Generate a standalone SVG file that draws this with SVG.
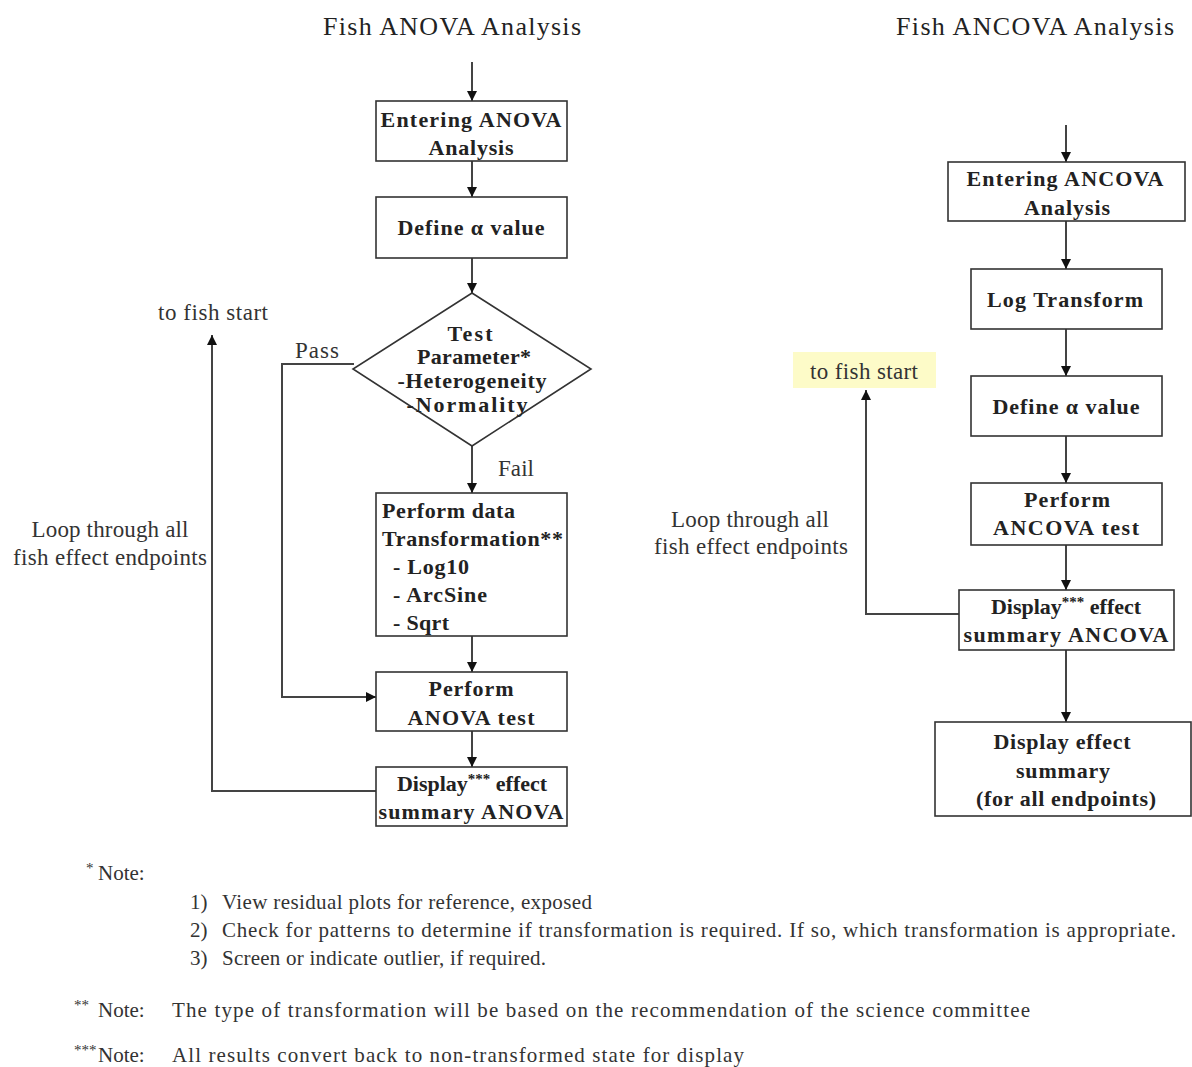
<svg xmlns="http://www.w3.org/2000/svg" width="1192" height="1067" viewBox="0 0 1192 1067">
<defs>
<marker id="ah" markerUnits="userSpaceOnUse" markerWidth="11" markerHeight="11" refX="10" refY="5" orient="auto">
<path d="M0,0 L10,5 L0,10 z" fill="#111"/>
</marker>
<style>
.box{fill:#fff;stroke:#333;stroke-width:1.6}
.nt{font-family:"Liberation Serif","Times New Roman",serif;font-weight:bold;font-size:22px;fill:#222}
.lb{font-family:"Liberation Serif","Times New Roman",serif;font-size:23px;fill:#333}
.tt{font-family:"Liberation Serif","Times New Roman",serif;font-size:26px;fill:#222}
.no{font-family:"Liberation Serif","Times New Roman",serif;font-size:21px;fill:#333}
.cn{fill:none;stroke:#444;stroke-width:2}
.sup{font-size:15px}
</style>
</defs>
<rect width="1192" height="1067" fill="#fff"/>

<text class="tt" x="452" y="35" text-anchor="middle" textLength="258">Fish ANOVA Analysis</text>
<text class="tt" x="1035" y="35" text-anchor="middle" textLength="278">Fish ANCOVA Analysis</text>

<g id="connectors">
<line class="cn" x1="472" y1="62" x2="472" y2="101" marker-end="url(#ah)"/>
<line class="cn" x1="472" y1="161" x2="472" y2="197" marker-end="url(#ah)"/>
<line class="cn" x1="472" y1="258" x2="472" y2="293" marker-end="url(#ah)"/>
<line class="cn" x1="472" y1="446" x2="472" y2="493" marker-end="url(#ah)"/>
<line class="cn" x1="472" y1="636" x2="472" y2="672" marker-end="url(#ah)"/>
<line class="cn" x1="472" y1="731" x2="472" y2="767" marker-end="url(#ah)"/>
<polyline class="cn" points="354,364 282,364 282,697 376,697" marker-end="url(#ah)"/>
<polyline class="cn" points="376,791 212,791 212,335" marker-end="url(#ah)"/>
<line class="cn" x1="1066" y1="125" x2="1066" y2="162" marker-end="url(#ah)"/>
<line class="cn" x1="1066" y1="221" x2="1066" y2="269" marker-end="url(#ah)"/>
<line class="cn" x1="1066" y1="329" x2="1066" y2="376" marker-end="url(#ah)"/>
<line class="cn" x1="1066" y1="436" x2="1066" y2="483" marker-end="url(#ah)"/>
<line class="cn" x1="1066" y1="545" x2="1066" y2="590" marker-end="url(#ah)"/>
<line class="cn" x1="1066" y1="650" x2="1066" y2="722" marker-end="url(#ah)"/>
<polyline class="cn" points="959,614 866,614 866,390" marker-end="url(#ah)"/>
</g>

<g id="lbl-pass"><text class="lb" x="317" y="358" text-anchor="middle" textLength="44">Pass</text></g>
<g id="lbl-fail"><text class="lb" x="516" y="476" text-anchor="middle" textLength="36">Fail</text></g>
<g id="lbl-start-left"><text class="lb" x="213" y="320" text-anchor="middle" textLength="110">to fish start</text></g>
<g id="lbl-loop-left">
<text class="lb" x="110" y="537" text-anchor="middle" textLength="157">Loop through all</text>
<text class="lb" x="110" y="565" text-anchor="middle" textLength="194">fish effect endpoints</text>
</g>
<g id="lbl-start-right">
<rect x="793" y="352" width="143" height="36" fill="#fdfbc8"/>
<text class="lb" x="864" y="379" text-anchor="middle" textLength="108">to fish start</text>
</g>
<g id="lbl-loop-right">
<text class="lb" x="750" y="527" text-anchor="middle" textLength="158">Loop through all</text>
<text class="lb" x="751" y="554" text-anchor="middle" textLength="194">fish effect endpoints</text>
</g>

<g id="n-enter-anova">
<rect class="box" x="376" y="101" width="191" height="60"/>
<text class="nt" x="471" y="127" text-anchor="middle" textLength="181">Entering ANOVA</text>
<text class="nt" x="471" y="155" text-anchor="middle" textLength="85">Analysis</text>
</g>
<g id="n-alpha-anova">
<rect class="box" x="376" y="197" width="191" height="61"/>
<text class="nt" x="471" y="235" text-anchor="middle" textLength="147">Define α value</text>
</g>
<g id="n-test">
<polygon class="box" points="472,293 591,369 472,446 353,369"/>
<text class="nt" x="470" y="341" text-anchor="middle" textLength="45">Test</text>
<text class="nt" x="474" y="364" text-anchor="middle" textLength="114">Parameter*</text>
<text class="nt" x="472" y="388" text-anchor="middle" textLength="149">-Heterogeneity</text>
<text class="nt" x="467" y="412" text-anchor="middle" textLength="121">-Normality</text>
</g>
<g id="n-transform">
<rect class="box" x="376" y="493" width="191" height="143"/>
<text class="nt" x="382" y="518" textLength="133">Perform data</text>
<text class="nt" x="382" y="546" textLength="181">Transformation**</text>
<text class="nt" x="393" y="574" textLength="76">- Log10</text>
<text class="nt" x="393" y="602" textLength="94">- ArcSine</text>
<text class="nt" x="393" y="630" textLength="56">- Sqrt</text>
</g>
<g id="n-anova-test">
<rect class="box" x="376" y="672" width="191" height="59"/>
<text class="nt" x="471" y="696" text-anchor="middle" textLength="85">Perform</text>
<text class="nt" x="471" y="725" text-anchor="middle" textLength="127">ANOVA test</text>
</g>
<g id="n-display-anova">
<rect class="box" x="376" y="767" width="191" height="59"/>
<text class="nt" x="472" y="791" text-anchor="middle">Display<tspan class="sup" dy="-7">***</tspan><tspan dy="7"> effect</tspan></text>
<text class="nt" x="471" y="819" text-anchor="middle" textLength="185">summary ANOVA</text>
</g>

<g id="n-enter-ancova">
<rect class="box" x="948" y="162" width="237" height="59"/>
<text class="nt" x="1065" y="186" text-anchor="middle" textLength="197">Entering ANCOVA</text>
<text class="nt" x="1067" y="215" text-anchor="middle" textLength="86">Analysis</text>
</g>
<g id="n-log">
<rect class="box" x="971" y="269" width="191" height="60"/>
<text class="nt" x="1065" y="307" text-anchor="middle" textLength="156">Log Transform</text>
</g>
<g id="n-alpha-ancova">
<rect class="box" x="971" y="376" width="191" height="60"/>
<text class="nt" x="1066" y="414" text-anchor="middle" textLength="147">Define α value</text>
</g>
<g id="n-ancova-test">
<rect class="box" x="971" y="483" width="191" height="62"/>
<text class="nt" x="1067" y="507" text-anchor="middle" textLength="86">Perform</text>
<text class="nt" x="1066" y="535" text-anchor="middle" textLength="146">ANCOVA test</text>
</g>
<g id="n-display-ancova">
<rect class="box" x="959" y="590" width="215" height="60"/>
<text class="nt" x="1066" y="614" text-anchor="middle">Display<tspan class="sup" dy="-7">***</tspan><tspan dy="7"> effect</tspan></text>
<text class="nt" x="1066" y="642" text-anchor="middle" textLength="205">summary ANCOVA</text>
</g>
<g id="n-display-all">
<rect class="box" x="935" y="722" width="256" height="94"/>
<text class="nt" x="1062" y="749" text-anchor="middle" textLength="137">Display effect</text>
<text class="nt" x="1063" y="778" text-anchor="middle" textLength="94">summary</text>
<text class="nt" x="1066" y="806" text-anchor="middle" textLength="180">(for all endpoints)</text>
</g>

<g id="notes">
<text class="no" x="86" y="880"><tspan class="sup" dy="-7">*</tspan><tspan dy="7" x="98">Note:</tspan></text>
<text class="no" x="190" y="909">1)</text>
<text class="no" x="222" y="909" textLength="370">View residual plots for reference, exposed</text>
<text class="no" x="190" y="937">2)</text>
<text class="no" x="222" y="937" textLength="954">Check for patterns to determine if transformation is required. If so, which transformation is appropriate.</text>
<text class="no" x="190" y="965">3)</text>
<text class="no" x="222" y="965" textLength="324">Screen or indicate outlier, if required.</text>
<text class="no" x="74" y="1017"><tspan class="sup" dy="-7">**</tspan><tspan dy="7" x="98">Note:</tspan></text>
<text class="no" x="172" y="1017" textLength="858">The type of transformation will be based on the recommendation of the science committee</text>
<text class="no" x="74" y="1062"><tspan class="sup" dy="-7">***</tspan><tspan dy="7" x="98">Note:</tspan></text>
<text class="no" x="172" y="1062" textLength="572">All results convert back to non-transformed state for display</text>
</g>
</svg>
